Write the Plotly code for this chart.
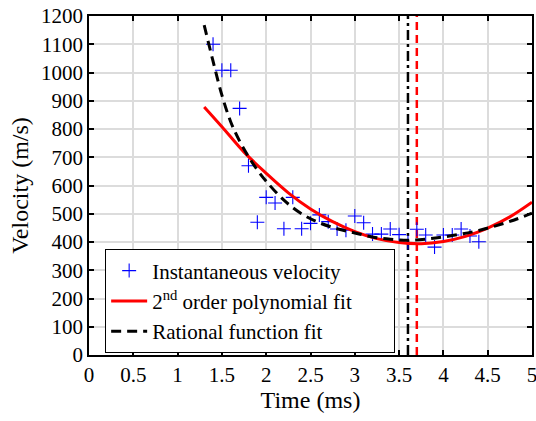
import plotly.graph_objects as go

# Measured data
t_meas = [1.4, 1.5, 1.6, 1.7, 1.8, 1.9, 2.0, 2.1, 2.2, 2.3, 2.4, 2.5, 2.6, 2.7, 2.8,
          2.9, 3.0, 3.1, 3.2, 3.3, 3.4, 3.5, 3.6, 3.7, 3.8, 3.9, 4.0, 4.1, 4.2, 4.3, 4.4]
v_meas = [1100, 1008, 1008, 873, 670, 470, 558, 538, 447, 558, 447, 466, 496, 472, 446,
          442, 492, 468, 428, 428, 446, 426, 398, 445, 425, 382, 425, 425, 446, 421, 401]

# 2nd order polynomial fit
t_poly = [1.3, 1.5, 1.75, 2.0, 2.25, 2.5, 2.75, 3.0, 3.25, 3.5, 3.75, 4.0, 4.25, 4.5, 4.75, 5.0]
v_poly = [878, 808, 718, 643, 574, 517, 472, 437, 412, 398, 394, 402, 420, 449, 489, 541]

# Rational function fit
t_rat = [1.3, 1.4, 1.5, 1.6, 1.7, 1.8, 1.9, 2.0, 2.2, 2.4, 2.6, 2.8, 3.0, 3.2, 3.4,
         3.6, 3.8, 4.0, 4.2, 4.4, 4.6, 4.8, 5.0]
v_rat = [1168, 1040, 920, 825, 757, 702, 655, 615, 548, 500, 468, 447, 432, 418, 410,
         406, 410, 418, 428, 441, 458, 478, 502]

# Vertical markers (minimum locations)
t_min_rat = 3.6
t_min_poly = 3.7
y_span = [0, 1200]

x_ticks = [0, 0.5, 1, 1.5, 2, 2.5, 3, 3.5, 4, 4.5, 5]
x_tick_labels = ["0", "0.5", "1", "1.5", "2", "2.5", "3", "3.5", "4", "4.5", "5"]
y_ticks = list(range(0, 1201, 100))

names = ["Instantaneous velocity",
         "2<sup>nd</sup> order polynomial fit" + "&nbsp;" * 7,
         "Rational function fit"]

font_family = '"Liberation Serif", "DejaVu Serif", serif'

fig = go.Figure()

fig.add_trace(go.Scatter(
    x=[t_min_rat, t_min_rat], y=y_span, mode="lines", showlegend=False,
    line=dict(color="black", width=2.5, dash="10px,4px,3px,4px")))
fig.add_trace(go.Scatter(
    x=[t_min_poly, t_min_poly], y=y_span, mode="lines", showlegend=False,
    line=dict(color="red", width=2.5, dash="8px,5px")))

fig.add_trace(go.Scatter(
    x=t_meas, y=v_meas, mode="markers", name=names[0],
    marker=dict(symbol="cross-thin-open", size=10, color="blue",
                line=dict(color="blue", width=1.1))))
fig.add_trace(go.Scatter(
    x=t_poly, y=v_poly, mode="lines", name=names[1],
    line=dict(color="red", width=3, shape="spline")))
fig.add_trace(go.Scatter(
    x=t_rat, y=v_rat, mode="lines", name=names[2],
    line=dict(color="black", width=3, dash="10px,6px", shape="spline")))

axis_common = dict(
    showline=True, linecolor="black", linewidth=1.5, mirror="ticks",
    ticks="inside", ticklen=5, tickcolor="black", tickwidth=1.5,
    showgrid=True, gridcolor="#dcdcdc", gridwidth=1.5, zeroline=False,
    automargin=False, ticklabeloverflow="allow",
    tickfont=dict(family=font_family, size=21, color="black"),
)

fig.update_layout(
    width=536, height=421,
    margin=dict(l=89, r=4, t=16, b=66),
    paper_bgcolor="white", plot_bgcolor="white",
    font=dict(family=font_family, color="black"),
    xaxis=dict(range=[0, 5], tickvals=x_ticks, ticktext=x_tick_labels,
               title=dict(text="Time (ms)", font=dict(family=font_family, size=24), standoff=4),
               **axis_common),
    yaxis=dict(range=[0, 1200], tickvals=y_ticks,
               title=dict(text="Velocity (m/s)", font=dict(family=font_family, size=24), standoff=6),
               **axis_common),
    legend=dict(x=0.036, y=0.312, xanchor="left", yanchor="top",
                bgcolor="white", bordercolor="black", borderwidth=1.2,
                font=dict(family=font_family, size=21, color="black"),
                tracegroupgap=0, itemwidth=36),
    showlegend=True,
)

fig.write_html("out.html")
